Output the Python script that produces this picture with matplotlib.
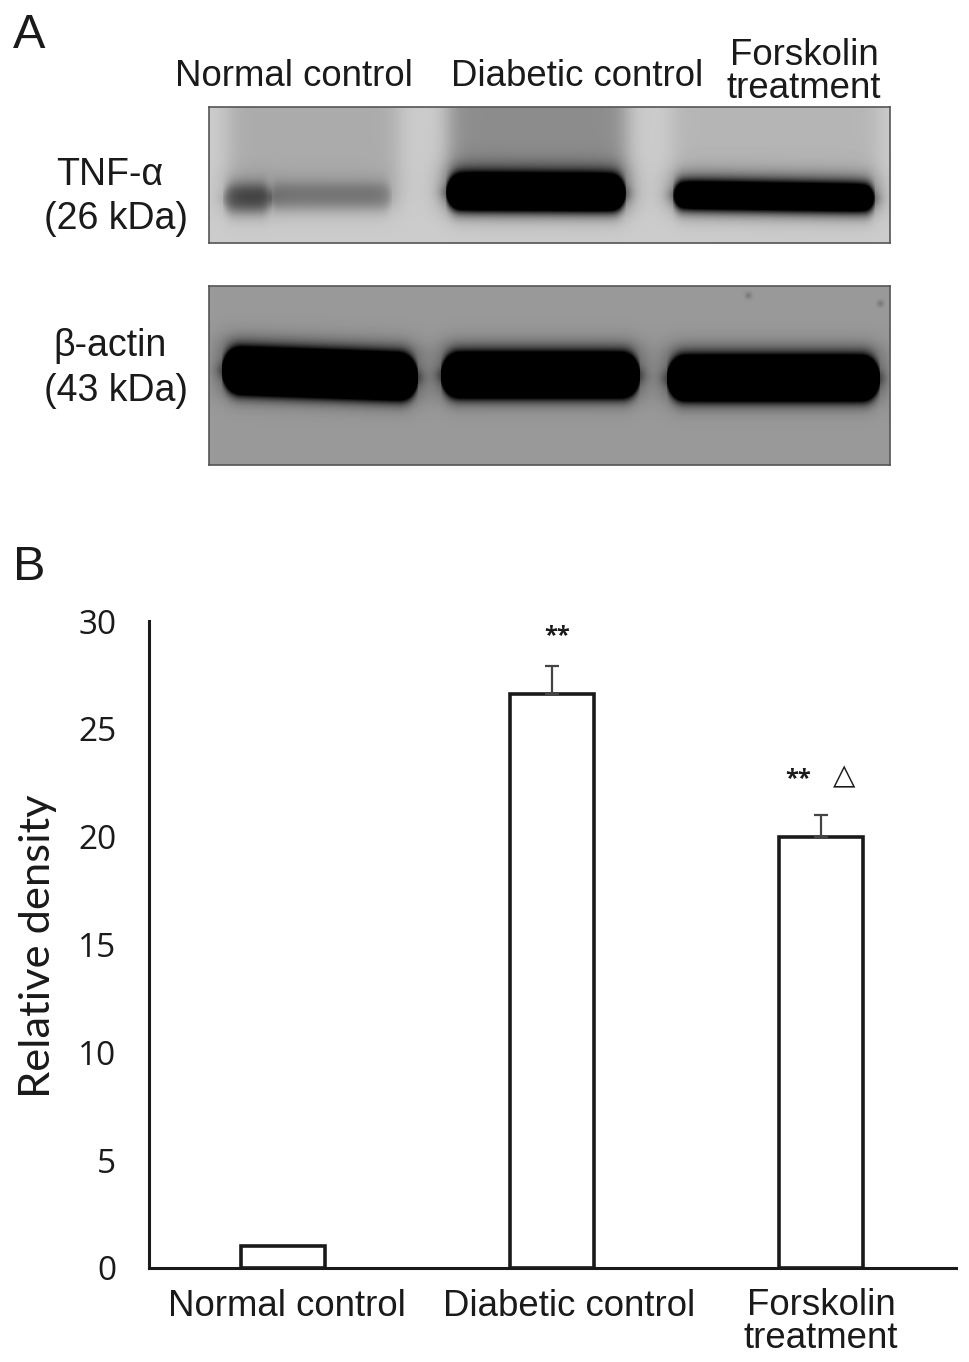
import numpy as np
import matplotlib
matplotlib.use("Agg")
import matplotlib.pyplot as plt

W, H = 969, 1362

categories = ["Normal control", "Diabetic control", "Forskolin\ntreatment"]
density = [1.0, 26.6, 20.0]
density_err = [0.0, 1.3, 1.0]
y_ticks = [0, 5, 10, 15, 20, 25, 30]

# blot bands: x start, x end, y at left, y at right, half height, darkness
tnf_bands = [(222, 272, 198, 198, 13, 0.27),
             (268, 392, 196, 196, 12, 0.15),
             (445, 626, 192, 193, 15, 1.0),
             (672, 875, 195, 198, 11, 1.0)]
actin_bands = [(221, 418, 370, 377, 20, 1.0),
               (440, 640, 375, 375, 19, 1.0),
               (666, 880, 378, 378, 19, 1.0)]
# lanes smear above the band: x start, x end, darkness
tnf_smear = [(228, 398, 0.13), (448, 626, 0.25), (672, 878, 0.09)]
actin_spots = [(748, 295), (880, 303)]


def step(v, a, b, soft):
    return 1 / (1 + np.exp(-(v - a) / soft)) * 1 / (1 + np.exp((v - b) / soft))


def blot(top, bottom, left, right, base, bands, smear=(), spots=()):
    xx, yy = np.meshgrid(np.arange(left, right), np.arange(top, bottom))
    img = np.full(xx.shape, base, dtype=float)
    for x0, x1, dark in smear:
        img -= dark * step(xx, x0, x1, 6) * step(yy, top - 60, 205, 8)
    for x0, x1, y0, y1, hh, dark in bands:
        cy = y0 + (y1 - y0) * (xx - x0) / (x1 - x0)
        # rounded band ends
        edge = np.clip((np.minimum(xx - x0, x1 - xx)) / hh, 0, 1)
        h = hh * np.sqrt(np.clip(1 - (1 - edge) ** 2, 0, 1))
        img -= 1.5 * dark * step(yy - cy, -h, h, 4.2) * step(xx, x0, x1, 4)
        # soft halo, stronger above the band
        img -= 0.28 * dark * step(yy - cy, -hh - 12, hh + 4, 6) * step(xx, x0, x1, 7)
    for sx, sy in spots:
        img -= 0.12 * np.exp(-((xx - sx) ** 2 + (yy - sy) ** 2) / 12)
    ax = fig.add_axes([left / W, 1 - bottom / H, (right - left) / W, (bottom - top) / H])
    ax.imshow(np.clip(img, 0, 1), cmap="gray", vmin=0, vmax=1, aspect="auto",
              interpolation="bilinear")
    ax.set_xticks([])
    ax.set_yticks([])
    for s in ax.spines.values():
        s.set_linewidth(1.2)
        s.set_color("#555555")


def label(x, y, s, size=26.4, family="Liberation Sans", **kw):
    kw.setdefault("ha", "center")
    kw.setdefault("va", "center")
    fig.text(x / W, 1 - y / H, s, fontsize=size, family=family, color="#1a1a1a", **kw)


fig = plt.figure(figsize=(W / 100, H / 100), dpi=100)

blot(107, 243, 209, 890, 0.80, tnf_bands, tnf_smear)
blot(286, 465, 209, 890, 0.60, actin_bands, spots=actin_spots)

label(29, 35, "A", 35)
label(29, 568, "B", 35)
label(294, 77, "Normal control")
label(577, 77, "Diabetic control")
label(804, 72, "Forskolin\ntreatment", linespacing=0.92)
label(110, 175, "TNF-α", 27)
label(116, 219, "(26 kDa)", 27)
label(110, 346, "β-actin", 27)
label(116, 391, "(43 kDa)", 27)

ax = fig.add_axes([149 / W, 1 - 1268 / H, (956 - 149) / W, (1268 - 621) / H])
pos = np.arange(len(categories))
ax.bar(pos, density, width=0.312, color="white", edgecolor="#1a1a1a", linewidth=2.6)
ax.errorbar(pos[1:], density[1:], yerr=[[0, 0], density_err[1:]], fmt="none",
            ecolor="#444444", elinewidth=1.6, capsize=5, capthick=1.6)
ax.set_xlim(-0.498, 2.502)
ax.set_ylim(0, 30)
ax.set_yticks(y_ticks)
ax.set_xticks([])
ax.tick_params(axis="y", length=0, pad=23.5, labelsize=24, labelcolor="#1a1a1a")
for t in ax.get_yticklabels():
    t.set_family("Open Sans")
for side in ("top", "right"):
    ax.spines[side].set_visible(False)
for side in ("left", "bottom"):
    ax.spines[side].set_linewidth(2.2)
    ax.spines[side].set_color("#1a1a1a")

# category labels sit off the bar centres in the original
label(287, 1306, categories[0])
label(569, 1306, categories[1])
label(821, 1322, categories[2], linespacing=0.92)

label(38, 946, "Relative density", 31.3, family="Lato", rotation=90)
label(557, 636, "**", 17, family="Open Sans", fontweight="bold")
label(798, 779, "**", 17, family="Open Sans", fontweight="bold")
label(844, 776, "△", 21, family="DejaVu Sans")

fig.savefig("out.png", dpi=100)
